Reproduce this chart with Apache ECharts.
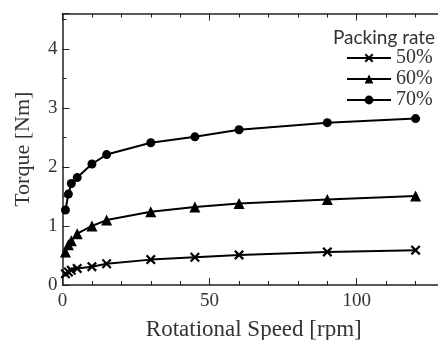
<!DOCTYPE html>
<html>
<head>
<meta charset="utf-8">
<script src="https://cdn.jsdelivr.net/npm/echarts@6/dist/echarts.min.js"></script>
<style>
  html, body { margin: 0; padding: 0; background: #fff; }
  #chart { width: 438px; height: 340px; }
</style>
</head>
<body>
<div id="chart"></div>
<script>
// rotational speed [rpm]
const speeds = [1, 2, 3, 5, 10, 15, 30, 45, 60, 90, 120];
// torque [Nm] per packing rate
const torque50 = [0.19, 0.22, 0.25, 0.28, 0.31, 0.36, 0.43, 0.47, 0.51, 0.56, 0.59];
const torque60 = [0.56, 0.68, 0.75, 0.87, 1.0, 1.1, 1.24, 1.32, 1.38, 1.45, 1.51];
const torque70 = [1.27, 1.54, 1.72, 1.82, 2.05, 2.21, 2.41, 2.51, 2.63, 2.75, 2.82];
const seriesNames = ["50%", "60%", "70%"];
const xLabels = [0, 50, 100];
const yLabels = [0, 1, 2, 3, 4];

const serif = '"Liberation Serif", "DejaVu Serif", serif';
const ink = "#222";
const text = "#333";
const cross = "path://M0,1.6L1.6,0L5,3.4L8.4,0L10,1.6L6.6,5L10,8.4L8.4,10L5,6.6L1.6,10L0,8.4L3.4,5Z";

const chart = echarts.init(document.getElementById("chart"), null, { renderer: "canvas" });

const pair = (xs, ys) => xs.map((x, i) => [x, ys[i]]);

const xBase = { type: "value", min: 0, max: 130, gridIndex: 0, splitLine: { show: false } };
const yBase = { type: "value", min: 0, max: 4.6, gridIndex: 0, splitLine: { show: false } };
const line = { show: true, onZero: false, lineStyle: { color: ink, width: 1.5 } };
const noLine = { show: false, onZero: false };

function series(name, data, symbol, size) {
  return {
    name,
    type: "line",
    data: pair(speeds, data),
    symbol,
    symbolSize: size,
    showSymbol: true,
    clip: false,
    lineStyle: { color: "#000", width: 2 },
    itemStyle: { color: "#000" },
    emphasis: { disabled: true },
    animation: false,
  };
}

chart.setOption({
  animation: false,
  title: {
    text: "Packing rate",
    left: 328,
    top: 23,
    textStyle: { fontFamily: "Lato, 'Open Sans', sans-serif", fontWeight: "normal", fontSize: 19, color: text },
  },
  legend: {
    data: seriesNames,
    orient: "vertical",
    left: 341,
    top: 43,
    itemWidth: 44,
    itemHeight: 11,
    itemGap: 1,
    textStyle: { fontFamily: serif, fontSize: 20, color: text, lineHeight: 20 },
  },
  grid: { left: 62.5, top: 13.5, right: -7, bottom: 55, containLabel: false, outerBoundsMode: "none" },
  xAxis: [
    {
      ...xBase,
      position: "bottom",
      interval: 10,
      axisLine: line,
      axisTick: { inside: true, length: 4, lineStyle: { color: ink } },
      axisLabel: {
        margin: 7,
        fontFamily: serif,
        fontSize: 19,
        color: text,
        formatter: (v) => (xLabels.includes(v) ? String(v) : ""),
      },
      name: "Rotational Speed [rpm]",
      nameLocation: "middle",
      nameGap: 33,
      nameTextStyle: { fontFamily: serif, fontSize: 23, color: text },
    },
    {
      ...xBase,
      position: "bottom",
      interval: 50,
      axisLine: noLine,
      axisTick: { inside: true, length: 7, lineStyle: { color: ink } },
      axisLabel: { show: false },
    },
    {
      ...xBase,
      position: "top",
      interval: 10,
      axisLine: line,
      axisTick: { inside: true, length: 4, lineStyle: { color: ink } },
      axisLabel: { show: false },
    },
    {
      ...xBase,
      position: "top",
      interval: 50,
      axisLine: noLine,
      axisTick: { inside: true, length: 7, lineStyle: { color: ink } },
      axisLabel: { show: false },
    },
  ],
  yAxis: [
    {
      ...yBase,
      position: "left",
      interval: 0.5,
      axisLine: line,
      axisTick: { inside: true, length: 4, lineStyle: { color: ink } },
      axisLabel: {
        margin: 5,
        fontFamily: serif,
        fontSize: 19,
        color: text,
        formatter: (v) => (yLabels.includes(v) ? String(v) : ""),
      },
      name: "Torque [Nm]",
      nameLocation: "middle",
      nameGap: 28,
      nameTextStyle: { fontFamily: serif, fontSize: 22, color: text },
    },
    {
      ...yBase,
      position: "left",
      interval: 1,
      axisLine: noLine,
      axisTick: { inside: true, length: 7, lineStyle: { color: ink } },
      axisLabel: { show: false },
    },
    {
      ...yBase,
      position: "right",
      interval: 0.5,
      axisLine: line,
      axisTick: { inside: true, length: 4, lineStyle: { color: ink } },
      axisLabel: { show: false },
    },
    {
      ...yBase,
      position: "right",
      interval: 1,
      axisLine: noLine,
      axisTick: { inside: true, length: 7, lineStyle: { color: ink } },
      axisLabel: { show: false },
    },
  ],
  series: [
    series(seriesNames[0], torque50, cross, 10),
    series(seriesNames[1], torque60, "triangle", 11),
    series(seriesNames[2], torque70, "circle", 9),
  ],
});
</script>
</body>
</html>
